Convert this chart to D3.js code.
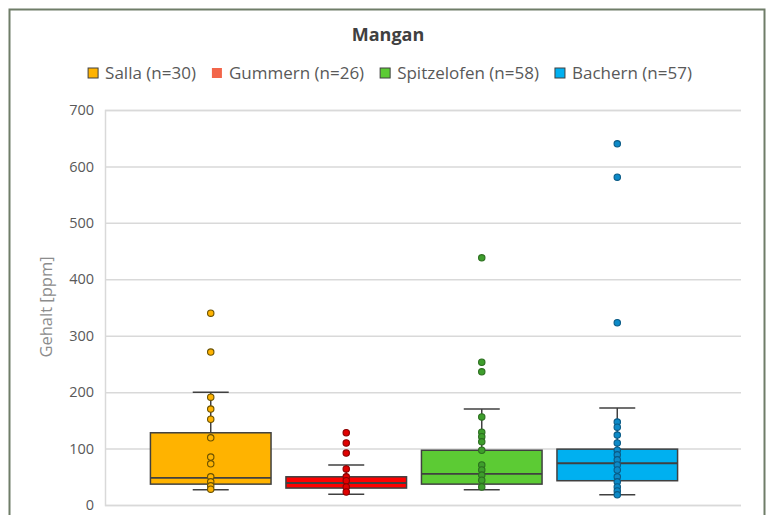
<!DOCTYPE html>
<html>
<head>
<meta charset="utf-8">
<script src="https://cdn.jsdelivr.net/npm/d3@7"></script>
<style>
  html, body { margin: 0; padding: 0; background: #ffffff; }
  svg { display: block; }
  text { font-family: "Open Sans", "Noto Sans", sans-serif; }
</style>
</head>
<body>
<svg id="chart" width="766" height="515"></svg>
<script>
// ---------- data ----------
const categories = ["Salla", "Gummern", "Spitzelofen", "Bachern"];
const counts = [30, 26, 58, 57];
const boxFill = ["#FFB300", "#FF0000", "#5CCB34", "#00B0F0"];
const legendFill = ["#FFB300", "#F2654A", "#5CCB34", "#00B0F0"];
const dotFill = ["#FFB300", "#E00000", "#3E9E2C", "#0C8AC8"];
const dotStroke = ["#6b5200", "#8a0000", "#2c6e20", "#0a5a85"];

const whiskerLow = [27, 19, 27, 18];
const q1 = [37, 30, 37, 43];
const median = [48, 39, 55, 74];
const q3 = [128, 50, 97, 99];
const whiskerHigh = [200, 71, 170, 172];

const sallaPoints = [191, 170, 152, 119, 85, 73, 50, 41, 34, 28];
const gummernPoints = [64, 50, 43, 32, 23];
const spitzelofenPoints = [156, 129, 121, 112, 97, 71, 62, 53, 44, 32];
const bachernPoints = [147, 138, 124, 110, 97, 89, 80, 71, 62, 50, 41, 32, 25, 18];

const sallaOutliers = [340, 271];
const gummernOutliers = [128, 110, 92];
const spitzelofenOutliers = [438, 253, 236];
const bachernOutliers = [640, 581, 323];

const yTicks = [0, 100, 200, 300, 400, 500, 600, 700];
const chartTitle = "Mangan";
const yTitle = "Gehalt [ppm]";

const innerPoints = [sallaPoints, gummernPoints, spitzelofenPoints, bachernPoints];
const outliers = [sallaOutliers, gummernOutliers, spitzelofenOutliers, bachernOutliers];

// ---------- layout ----------
const svg = d3.select("#chart");
const plot = { left: 105, right: 741, top: 110, bottom: 505 };

// frame
svg.append("rect")
  .attr("x", 9.5).attr("y", 9.5)
  .attr("width", 755).attr("height", 520)
  .attr("fill", "#ffffff")
  .attr("stroke", "#6f7d68")
  .attr("stroke-width", 2);

const y = d3.scaleLinear().domain([0, 700]).range([plot.bottom, plot.top]);
const x = d3.scaleBand().domain(categories)
  .range([103, 725]).paddingInner(0.11).paddingOuter(0.35);

// gridlines via axis
const yAxis = d3.axisLeft(y).tickValues(yTicks)
  .tickSize(-(plot.right - plot.left)).tickPadding(11).tickFormat(d3.format("d"));
const gy = svg.append("g").attr("transform", `translate(${plot.left},0)`).call(yAxis);
gy.select(".domain").attr("stroke", "#d9d9d9").attr("stroke-width", 1.5);
gy.selectAll(".tick line").attr("stroke", "#d9d9d9").attr("stroke-width", 1.5);
gy.selectAll(".tick text")
  .attr("fill", "#595959").attr("font-size", 14.5);

// title
svg.append("text")
  .attr("x", 388).attr("y", 41)
  .attr("text-anchor", "middle")
  .attr("font-size", 18).attr("font-weight", "bold")
  .attr("fill", "#404040")
  .text(chartTitle);

// y title
svg.append("text")
  .attr("transform", `translate(52,307) rotate(-90)`)
  .attr("text-anchor", "middle")
  .attr("font-size", 16.5)
  .attr("fill", "#8c8c8c")
  .text(yTitle);

// legend
const legend = svg.append("g");
const legendFont = 17;
const items = categories.map((c, i) => `${c} (n=${counts[i]})`);
const itemGroups = legend.selectAll("g.item").data(items).join("g").attr("class", "item");
itemGroups.append("rect")
  .attr("width", 10).attr("height", 10)
  .attr("y", -5)
  .attr("fill", (d, i) => legendFill[i])
  .attr("stroke", (d, i) => i === 1 ? "none" : "#404040")
  .attr("stroke-width", 1);
itemGroups.append("text")
  .attr("x", 17).attr("y", 0)
  .attr("dy", "0.35em")
  .attr("font-size", legendFont)
  .attr("fill", "#595959")
  .text(d => d);
let widths = [];
itemGroups.each(function () { widths.push(this.getBBox().width); });
const gap = 16;
const totalW = d3.sum(widths) + gap * (widths.length - 1);
let cx = 390 - totalW / 2;
itemGroups.attr("transform", (d, i) => {
  const t = `translate(${cx},73)`;
  cx += widths[i] + gap;
  return t;
});

// boxes
const bw = x.bandwidth();
const capW = 36;
const series = svg.append("g").selectAll("g.box").data(categories).join("g").attr("class", "box");
series.each(function (c, i) {
  const g = d3.select(this);
  const cxm = x(c) + bw / 2;
  const stroke = "#404040";
  // whiskers
  g.append("line").attr("x1", cxm).attr("x2", cxm)
    .attr("y1", y(q3[i])).attr("y2", y(whiskerHigh[i]))
    .attr("stroke", stroke).attr("stroke-width", 1.5);
  g.append("line").attr("x1", cxm).attr("x2", cxm)
    .attr("y1", y(q1[i])).attr("y2", y(whiskerLow[i]))
    .attr("stroke", stroke).attr("stroke-width", 1.5);
  g.append("line").attr("x1", cxm - capW / 2).attr("x2", cxm + capW / 2)
    .attr("y1", y(whiskerHigh[i])).attr("y2", y(whiskerHigh[i]))
    .attr("stroke", stroke).attr("stroke-width", 1.5);
  g.append("line").attr("x1", cxm - capW / 2).attr("x2", cxm + capW / 2)
    .attr("y1", y(whiskerLow[i])).attr("y2", y(whiskerLow[i]))
    .attr("stroke", stroke).attr("stroke-width", 1.5);
  // box
  g.append("rect")
    .attr("x", x(c)).attr("width", bw)
    .attr("y", y(q3[i])).attr("height", y(q1[i]) - y(q3[i]))
    .attr("fill", boxFill[i])
    .attr("stroke", stroke).attr("stroke-width", 1.5);
  // median
  g.append("line").attr("x1", x(c)).attr("x2", x(c) + bw)
    .attr("y1", y(median[i])).attr("y2", y(median[i]))
    .attr("stroke", stroke).attr("stroke-width", 1.8);
  // inner points
  g.selectAll("circle.inner").data(innerPoints[i]).join("circle")
    .attr("class", "inner")
    .attr("cx", cxm).attr("cy", d => y(d)).attr("r", 3.2)
    .attr("fill", dotFill[i]).attr("stroke", dotStroke[i]).attr("stroke-width", 1.1);
  // outliers
  g.selectAll("circle.out").data(outliers[i]).join("circle")
    .attr("class", "out")
    .attr("cx", cxm).attr("cy", d => y(d)).attr("r", 3.2)
    .attr("fill", dotFill[i]).attr("stroke", dotStroke[i]).attr("stroke-width", 1.1);
});
</script>
</body>
</html>
